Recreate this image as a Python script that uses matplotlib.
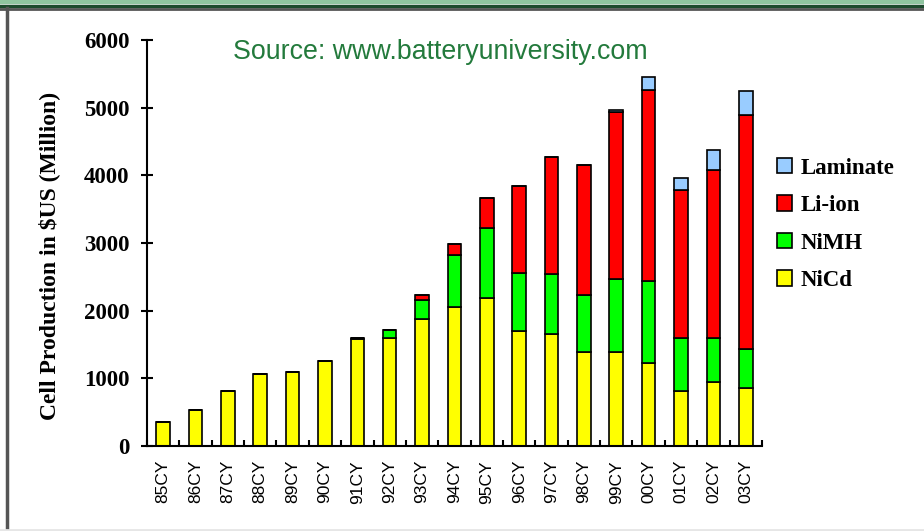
import numpy as np
import matplotlib
matplotlib.use("Agg")
import matplotlib.pyplot as plt
from matplotlib.patches import Patch

years = ["85CY", "86CY", "87CY", "88CY", "89CY", "90CY", "91CY", "92CY", "93CY", "94CY",
         "95CY", "96CY", "97CY", "98CY", "99CY", "00CY", "01CY", "02CY", "03CY"]
nicd = [350, 530, 810, 1065, 1090, 1250, 1575, 1600, 1875, 2050,
        2180, 1700, 1650, 1390, 1390, 1220, 810, 940, 860]
nimh = [0, 0, 0, 0, 0, 0, 25, 110, 280, 770,
        1045, 860, 890, 840, 1075, 1215, 790, 660, 570]
liion = [0, 0, 0, 0, 0, 0, 0, 0, 80, 160,
         445, 1285, 1730, 1920, 2470, 2830, 2190, 2475, 3460]
laminate = [0, 0, 0, 0, 0, 0, 0, 0, 0, 0,
            0, 0, 0, 0, 25, 190, 175, 305, 355]

series = [("NiCd", nicd, "#ffff00"),
          ("NiMH", nimh, "#00ff00"),
          ("Li-ion", liion, "#ff0000"),
          ("Laminate", laminate, "#99ccff")]

fig = plt.figure(figsize=(9.24, 5.31), dpi=100)
ax = fig.add_axes([0.159, 0.1601, 0.6656, 0.7646])

x = np.arange(len(years))
bottom = np.zeros(len(years))
for name, vals, col in series:
    vals = np.array(vals, dtype=float)
    ax.bar(x, vals, bottom=bottom, width=0.42, color=col,
           edgecolor="black", linewidth=1.2)
    bottom += vals

ax.set_xlim(-0.5, len(years) - 0.5)
ax.set_ylim(0, 6000)
for s in ["top", "right"]:
    ax.spines[s].set_visible(False)
ax.spines["left"].set_linewidth(1.5)
ax.spines["bottom"].set_linewidth(1.5)

# category labels without ticks, small ticks between categories
ax.set_xticks(x)
ax.set_xticklabels(years, rotation=90, fontsize=12.5, family="Liberation Sans")
ax.tick_params(axis="x", which="major", length=0, pad=10)
ax.set_xticks(np.arange(-0.5, len(years)), minor=True)
ax.tick_params(axis="x", which="minor", direction="in", length=4, width=1.5)

ax.set_yticks(np.arange(0, 6001, 1000))
ax.set_yticklabels([str(v) for v in range(0, 6001, 1000)],
                   fontsize=16.5, family="Liberation Serif", fontweight="bold")
ax.tick_params(axis="y", direction="inout", length=9, width=1.5, pad=8)

ax.set_ylabel("Cell Production in $US (Million)", fontsize=17,
              family="Liberation Serif", fontweight="bold")
ax.yaxis.set_label_coords(-0.142, 0.468)

fig.text(0.476, 0.902, "Source: www.batteryuniversity.com", color="#237a3c",
         fontsize=19.3, family="Liberation Sans", ha="center", va="center")

handles = [Patch(facecolor=col, edgecolor="black", linewidth=1.2, label=name)
           for name, vals, col in series[::-1]]
fig.legend(handles=handles, loc="upper left", bbox_to_anchor=(0.819, 0.742),
           frameon=False, prop={"family": "Liberation Serif", "weight": "bold", "size": 16.5},
           handlelength=0.65, handleheight=0.65, handletextpad=0.35, labelspacing=0.72)

# page frame
fig.add_artist(plt.Line2D([0, 1], [0.997, 0.997], color="#8fc49f", lw=3, transform=fig.transFigure))
fig.add_artist(plt.Line2D([0, 1], [0.989, 0.989], color="#1c4a2c", lw=2.5, transform=fig.transFigure))
fig.add_artist(plt.Line2D([0, 1], [0.983, 0.983], color="#555555", lw=2, transform=fig.transFigure))
fig.add_artist(plt.Line2D([0.008, 0.008], [0.0, 0.985], color="#555555", lw=2.5, transform=fig.transFigure))
fig.add_artist(plt.Line2D([0, 1], [0.002, 0.002], color="#e6e6e6", lw=2, transform=fig.transFigure))

fig.savefig("out.png", dpi=100)
